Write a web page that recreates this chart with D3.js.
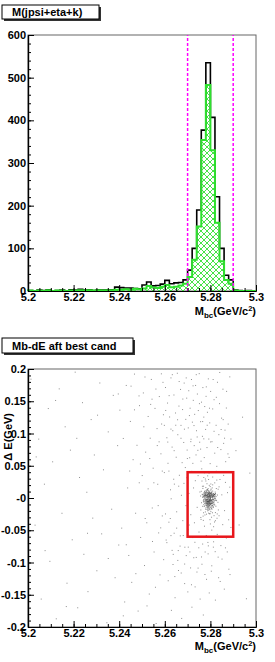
<!DOCTYPE html>
<html>
<head>
<meta charset="utf-8">
<script src="https://cdn.jsdelivr.net/npm/d3@7"></script>
<style>
  body { margin: 0; background: #fff; }
  text { font-family: "Liberation Sans", Arial, sans-serif; font-weight: bold; font-size: 11px; fill: #000; }
</style>
</head>
<body>
<div id="chart"></div>
<script>
// ---- data ----
// 50 bins of 2 MeV between 5.20 and 5.30
const binLow = d3.range(50).map(i => 5.2 + i * 0.002);
// all candidates (black)
const allCounts = [
  1, 0, 2, 1, 3, 0, 1, 2, 0, 3,
  2, 4, 2, 3, 1, 3, 2, 3, 3, 9,
  8, 7, 7, 6, 5, 14, 21, 12, 13, 16,
  25, 17, 19, 20, 26, 49, 100, 190, 377, 535,
  407, 221, 100, 37, 26, 2, 1, 0, 1, 0
];
// best candidate (green, hatched)
const bestCounts = [
  1, 0, 1, 0, 2, 0, 1, 1, 0, 1,
  1, 2, 1, 2, 1, 2, 1, 2, 2, 3,
  3, 4, 3, 5, 4, 6, 12, 8, 7, 10,
  14, 9, 10, 13, 17, 33, 73, 151, 354, 483,
  330, 160, 70, 26, 17, 1, 0, 0, 0, 0
];
const histTicks = [0, 100, 200, 300, 400, 500, 600];
const mbcTicks = [5.2, 5.22, 5.24, 5.26, 5.28, 5.3];
const mbcTickLabels = ["5.2", "5.22", "5.24", "5.26", "5.28", "5.3"];
const deTicks = [-0.2, -0.15, -0.1, -0.05, 0, 0.05, 0.1, 0.15, 0.2];
const deTickLabels = ["-0.2", "-0.15", "-0.1", "-0.05", "-0", "0.05", "0.1", "0.15", "0.2"];
const mbcCut = [5.27, 5.29];
const deCut = [-0.06, 0.04];

// Mbc-dE scatter, [Mbc, dE]
const bgPoints = [
  [5.2013,0.1842],[5.2031,-0.0421],[5.2047,0.0913],[5.2058,-0.1567],[5.2072,0.0214],[5.2089,0.1387],[5.2096,-0.0982],[5.2108,0.0561],
  [5.2124,-0.1873],[5.2137,0.1692],[5.2149,-0.0237],[5.2163,0.1104],[5.2171,-0.1321],[5.2186,0.0742],[5.2194,-0.0648],[5.2207,0.1951],
  [5.2218,-0.1702],[5.2226,0.0318],[5.2239,0.1478],[5.2245,-0.0873],[5.2258,0.0089],[5.2263,-0.1452],[5.2277,0.1216],[5.2284,-0.0312],
  [5.2291,0.0667],[5.2302,-0.1128],[5.2315,0.1783],[5.2323,-0.0556],[5.2331,0.0437],[5.2346,-0.1934],[5.2352,0.1025],[5.2367,-0.0174],
  [5.2374,0.1591],[5.2382,-0.1236],[5.2393,0.0812],[5.2398,-0.0729],
  [5.2403,0.1362],[5.2411,-0.0467],[5.2418,0.0923],[5.2424,-0.1612],[5.2431,0.1745],[5.2437,0.0156],[5.2442,-0.0891],[5.2449,0.1187],
  [5.2455,-0.1308],[5.2461,0.0594],[5.2467,0.1921],[5.2472,-0.0236],[5.2478,0.0817],[5.2483,-0.1753],[5.2489,0.1432],[5.2494,-0.0612],
  [5.2501,0.0348],[5.2506,0.1629],[5.2511,-0.1047],[5.2516,0.0711],[5.2521,-0.0384],[5.2527,0.1264],[5.2532,-0.1489],[5.2536,0.0927],
  [5.2541,0.1838],[5.2545,-0.0155],[5.2549,0.0462],[5.2553,-0.0837],[5.2557,0.1389],[5.2562,-0.1946],[5.2566,0.1076],[5.2569,0.0213],
  [5.2573,-0.0541],[5.2576,0.1573],[5.2579,-0.1192],[5.2583,0.0685],[5.2586,0.1147],[5.2589,-0.0278],[5.2592,0.1793],[5.2595,-0.0956],
  [5.2598,0.0394],[5.2544,0.1532],[5.2508,0.1104],[5.2467,0.1367],[5.2575,0.0871],[5.2522,-0.1673],[5.2488,0.0236],[5.2559,-0.1384],
  [5.2431,-0.0725],[5.2594,0.1291],
  [5.2603,0.1713],[5.2606,-0.0652],[5.2609,0.0934],[5.2612,0.1472],[5.2615,-0.1283],[5.2618,0.0417],[5.2621,0.1256],[5.2624,-0.0318],
  [5.2627,0.1862],[5.2629,-0.1742],[5.2632,0.0789],[5.2635,0.1043],[5.2637,-0.0874],[5.2640,0.1597],[5.2642,0.0215],[5.2645,-0.1546],
  [5.2647,0.1318],[5.2650,0.0632],[5.2652,-0.0467],[5.2655,0.1934],[5.2657,0.0981],[5.2660,-0.1124],[5.2662,0.1425],[5.2664,0.0352],
  [5.2667,-0.0746],[5.2669,0.1683],[5.2671,0.1126],[5.2674,-0.1867],[5.2676,0.0548],[5.2678,0.1371],[5.2681,-0.0582],[5.2683,0.0861],
  [5.2685,0.1782],[5.2687,-0.1327],[5.2690,0.0472],[5.2692,0.1219],[5.2694,-0.0893],[5.2696,0.1548],[5.2698,0.0743],[5.2701,-0.1456],
  [5.2703,0.1087],[5.2705,0.1663],[5.2707,-0.0419],[5.2709,0.0624],[5.2711,0.1392],[5.2713,-0.1084],[5.2715,0.0911],[5.2717,0.1837],
  [5.2719,-0.1693],[5.2721,0.1176],[5.2723,0.0537],[5.2725,0.1514],[5.2727,-0.0926],[5.2729,0.0812],[5.2731,0.1297],[5.2733,-0.1378],
  [5.2735,0.1745],[5.2737,0.0668],[5.2739,0.1043],[5.2741,-0.1148],[5.2743,0.1612],[5.2745,0.0739],[5.2747,0.1356],[5.2749,-0.0772],
  [5.2751,0.1928],[5.2753,0.0865],[5.2755,-0.1567],[5.2757,0.1183],[5.2759,0.0571],[5.2761,0.1486],[5.2763,-0.1027],[5.2765,0.0956],
  [5.2767,0.1712],[5.2769,-0.1814],[5.2771,0.1254],[5.2773,0.0627],[5.2775,0.1418],[5.2777,-0.0837],[5.2779,0.1063],[5.2781,0.1576],
  [5.2783,-0.1261],[5.2785,0.0782],[5.2787,0.1329],[5.2789,-0.0689],[5.2791,0.1847],[5.2793,0.0914],[5.2795,-0.1472],[5.2797,0.1165],
  [5.2799,0.0533],[5.2801,0.1652],[5.2804,-0.1135],[5.2807,0.0873],[5.2810,0.1381],[5.2813,-0.0762],[5.2816,0.1524],[5.2819,0.0695],
  [5.2822,-0.1583],[5.2825,0.1127],[5.2828,0.0491],[5.2831,0.1794],[5.2834,-0.0917],[5.2837,0.0982],[5.2840,0.1463],[5.2843,-0.1294],
  [5.2846,0.0751],[5.2849,0.1238],[5.2852,-0.0612],[5.2855,0.1687],[5.2858,0.0847],[5.2861,-0.1413],[5.2864,0.1052],[5.2867,0.0563],
  [5.2870,0.1395],[5.2874,-0.0836],[5.2878,0.1146],[5.2882,0.0629],[5.2886,-0.1187],[5.2890,0.0915],
  [5.2912,0.0734],[5.2926,-0.0418],[5.2941,0.1253],[5.2958,-0.1562],[5.2973,0.0386],
  [5.2652,-0.0214],[5.2661,0.0183],[5.2668,-0.0587],[5.2673,0.0042],[5.2679,-0.0351],[5.2684,0.0227],[5.2688,-0.0763],[5.2693,-0.0118],
  [5.2697,0.0314],[5.2702,-0.0492],[5.2706,0.0071],[5.2710,-0.0836],[5.2714,-0.0259],[5.2718,0.0412],[5.2722,-0.0613],[5.2726,0.0156],
  [5.2730,-0.0384],[5.2734,0.0268],[5.2738,-0.0921],[5.2742,-0.0145],[5.2746,0.0347],[5.2750,-0.0528],[5.2754,0.0093],[5.2758,-0.0302],
  [5.2762,0.0452],[5.2766,-0.0714],[5.2770,0.0183],[5.2774,-0.0437],[5.2778,0.0294],[5.2782,-0.0581],[5.2786,0.0118],[5.2790,-0.0866],
  [5.2794,0.0386],[5.2798,-0.0243],[5.2802,0.0217],[5.2806,-0.0498],[5.2810,0.0325],[5.2814,-0.0679],[5.2818,0.0054],[5.2822,-0.0352],
  [5.2826,0.0413],[5.2830,-0.0564],[5.2834,0.0136],[5.2838,-0.0275],[5.2842,0.0287],[5.2846,-0.0738],[5.2850,0.0049],[5.2854,-0.0413],
  [5.2858,0.0351],[5.2862,-0.0196],[5.2866,0.0242],[5.2870,-0.0621],[5.2875,0.0083],[5.2880,-0.0338],[5.2885,0.0168],[5.2890,-0.0457],
  [5.2632,-0.0812],[5.2641,-0.0546],[5.2657,-0.0968],[5.2618,-0.0375],[5.2625,0.0127],[5.2636,-0.1031],[5.2609,-0.0692],
  [5.2452,0.1734],[5.2487,0.1583],[5.2513,0.1876],[5.2538,0.1451],[5.2561,0.1689],[5.2585,0.1925],[5.2604,0.1357],[5.2619,0.1587],
  [5.2633,0.1912],[5.2648,0.1128],[5.2663,0.1806],[5.2679,0.1534],[5.2694,0.1862],[5.2708,0.1278],[5.2724,0.1739],[5.2738,0.1912],
  [5.2752,0.1463],[5.2766,0.1185],[5.2782,0.1723],[5.2796,0.1392],[5.2812,0.1837],[5.2826,0.1561],[5.2841,0.1946],[5.2856,0.1215],
  [5.2871,0.1653],[5.2885,0.1878],[5.2598,0.1126],[5.2613,0.0867],[5.2627,0.1068],[5.2641,0.0734],[5.2656,0.1213],[5.2671,0.0926],
  [5.2686,0.1067],[5.2699,0.0612],[5.2714,0.0874],[5.2728,0.1123],[5.2742,0.0946],[5.2757,0.0758],[5.2771,0.0917],[5.2786,0.1128],
  [5.2801,0.0869],[5.2816,0.1034],[5.2832,0.0783],[5.2847,0.1062],[5.2862,0.0927],[5.2877,0.0684],[5.2534,0.0612],[5.2552,0.0236],
  [5.2571,-0.0118],[5.2589,0.0417],[5.2603,-0.0247],[5.2614,0.0538],[5.2628,-0.0012],[5.2639,0.0291],[5.2582,-0.0463],[5.2567,0.0813],
  [5.2546,-0.0674],[5.2527,0.0142],[5.2514,-0.0318],[5.2493,0.0527],[5.2627,-0.0583],[5.2644,-0.1218],[5.2659,-0.0815],[5.2672,-0.1163],
  [5.2687,-0.1024],[5.2703,-0.0762],[5.2717,-0.1345],[5.2732,-0.0687],[5.2746,-0.1087],[5.2761,-0.0914],[5.2776,-0.1186],[5.2791,-0.0742],
  [5.2806,-0.1051],[5.2821,-0.0832],[5.2836,-0.1236],[5.2851,-0.0947],[5.2866,-0.0773],[5.2881,-0.1104],[5.2473,-0.1173],[5.2396,0.1613],
  [5.2352,-0.0938],[5.2305,0.1284],[5.2261,-0.0547],[5.2214,0.0925],[5.2168,-0.1683],[5.2121,0.1512],[5.2075,-0.0816],[5.2036,0.0637],
  [5.2418,-0.1827],[5.2446,0.0418]
];
const signalPoints = [
  [5.2794,-0.0041],[5.2788,0.0023],[5.2801,-0.0097],[5.2779,-0.0012],[5.2806,0.0054],[5.2791,-0.0136],[5.2783,0.0078],[5.2797,0.0012],
  [5.2812,-0.0063],[5.2775,-0.0085],[5.2799,-0.0029],[5.2786,-0.0178],[5.2793,0.0101],[5.2804,-0.0152],[5.2781,0.0036],[5.2796,-0.0068],
  [5.2809,0.0018],[5.2772,-0.0047],[5.2790,0.0146],[5.2802,-0.0211],[5.2785,-0.0103],[5.2798,0.0065],[5.2777,0.0112],[5.2815,-0.0032],
  [5.2792,-0.0187],[5.2789,-0.0058],[5.2805,0.0093],[5.2780,-0.0154],[5.2800,0.0027],[5.2795,-0.0112],[5.2787,0.0049],[5.2811,-0.0121],
  [5.2774,0.0003],[5.2797,-0.0245],[5.2784,-0.0072],[5.2803,0.0138],[5.2791,0.0031],[5.2808,-0.0084],[5.2778,-0.0216],[5.2799,0.0177],
  [5.2782,-0.0034],[5.2806,-0.0045],[5.2793,-0.0075],[5.2776,0.0068],[5.2813,0.0041],[5.2788,-0.0128],[5.2801,0.0008],[5.2790,-0.0019],
  [5.2796,0.0085],[5.2784,0.0125],[5.2807,-0.0173],[5.2781,-0.0091],[5.2798,-0.0053],[5.2792,0.0059],[5.2773,-0.0132],[5.2810,0.0107],
  [5.2786,0.0014],[5.2803,-0.0118],[5.2795,0.0196],[5.2779,0.0047],[5.2794,-0.0163],[5.2789,0.0091],[5.2800,-0.0087],[5.2783,-0.0251],
  [5.2817,-0.0096],[5.2787,-0.0046],[5.2804,0.0039],[5.2797,-0.0141],[5.2777,-0.0024],[5.2809,-0.0229],[5.2791,0.0072],[5.2785,-0.0061],
  [5.2802,0.0122],[5.2796,-0.0026],[5.2780,0.0162],[5.2812,-0.0148],[5.2788,-0.0198],[5.2799,0.0044],[5.2793,-0.0109],[5.2775,0.0098],
  [5.2806,-0.0071],[5.2784,0.0029],[5.2798,-0.0182],[5.2790,-0.0082],[5.2814,0.0062],[5.2782,-0.0117],[5.2801,-0.0038],[5.2787,0.0132],
  [5.2795,0.0021],[5.2778,-0.0066],[5.2808,0.0157],[5.2792,-0.0235],[5.2786,-0.0013],[5.2803,-0.0094],[5.2797,0.0106],[5.2771,0.0025],
  [5.2789,-0.0149],[5.2811,-0.0011],[5.2794,0.0051],[5.2783,-0.0079],
  [5.2765,0.0182],[5.2822,-0.0226],[5.2768,-0.0281],[5.2826,0.0147],[5.2761,-0.0073],[5.2829,-0.0314],[5.2763,0.0263],[5.2819,0.0235],
  [5.2758,-0.0186],[5.2831,0.0046],[5.2769,-0.0347],[5.2824,-0.0128],[5.2760,0.0104],[5.2835,-0.0185],[5.2771,0.0318],[5.2818,-0.0372],
  [5.2766,-0.0129],[5.2828,0.0278],[5.2757,0.0031],[5.2833,-0.0067],[5.2780,0.0264],[5.2805,-0.0298],[5.2792,0.0287],[5.2798,-0.0336],
  [5.2785,0.0221],[5.2810,0.0204],[5.2776,-0.0263],[5.2816,-0.0274],[5.2788,0.0343],[5.2800,-0.0402],[5.2764,0.0057],[5.2827,-0.0041],
  [5.2770,-0.0229],[5.2821,0.0092],[5.2767,0.0148],[5.2830,-0.0247],[5.2759,-0.0332],[5.2838,0.0173],[5.2774,0.0391],[5.2814,-0.0445],
  [5.2793,-0.0052],[5.2797,-0.0088],[5.2790,-0.0031],[5.2788,-0.0073],[5.2799,-0.0015],[5.2795,-0.0059],[5.2791,-0.0096],[5.2802,-0.0049],
  [5.2786,-0.0027],[5.2796,-0.0122],[5.2792,0.0004],[5.2800,-0.0067],[5.2789,-0.0106],[5.2794,-0.0021],[5.2803,-0.0081],[5.2787,-0.0055],
  [5.2798,0.0019],[5.2791,-0.0138],[5.2796,-0.0036],[5.2785,-0.0090],
  [5.2770,-0.0061],[5.2773,0.0042],[5.2776,-0.0118],[5.2779,0.0086],[5.2782,-0.0024],[5.2785,0.0063],[5.2788,-0.0157],[5.2791,0.0118],
  [5.2794,-0.0089],[5.2797,0.0035],[5.2800,-0.0142],[5.2803,0.0076],[5.2806,-0.0023],[5.2809,-0.0118],[5.2812,0.0027],[5.2815,-0.0071],
  [5.2818,0.0052],[5.2821,-0.0036],[5.2768,0.0013],[5.2771,-0.0103],[5.2774,0.0091],[5.2777,-0.0045],[5.2780,-0.0176],[5.2783,0.0105],
  [5.2786,-0.0083],[5.2789,0.0047],[5.2792,-0.0062],[5.2795,-0.0172],[5.2798,0.0081],[5.2801,-0.0028],[5.2804,-0.0165],[5.2807,0.0064],
  [5.2810,-0.0049],[5.2813,-0.0137],[5.2816,0.0018],[5.2819,-0.0109],[5.2822,0.0071],[5.2778,0.0029],[5.2781,-0.0052],[5.2784,-0.0139],
  [5.2787,0.0082],[5.2790,-0.0114],[5.2793,0.0027],[5.2796,-0.0046],[5.2799,-0.0097],[5.2802,0.0053],[5.2805,-0.0086],[5.2808,0.0011],
  [5.2811,-0.0081],[5.2814,-0.0024],[5.2776,0.0057],[5.2779,-0.0091],[5.2782,0.0044],[5.2785,-0.0031],[5.2788,-0.0092],[5.2791,-0.0058],
  [5.2794,0.0068],[5.2797,-0.0107],[5.2800,-0.0003],[5.2803,-0.0056],[5.2806,-0.0127],[5.2809,0.0039],[5.2812,-0.0099],[5.2785,-0.0118],
  [5.2790,0.0016],[5.2795,-0.0083],[5.2800,0.0069],[5.2805,-0.0039],[5.2780,-0.0037],[5.2810,-0.0063],
  [5.2766,0.0012],[5.2769,-0.0043],[5.2772,0.0061],[5.2775,-0.0015],[5.2778,0.0074],[5.2781,0.0008],[5.2784,-0.0052],[5.2787,0.0037],
  [5.2790,0.0069],[5.2793,-0.0007],[5.2796,0.0044],[5.2799,0.0079],[5.2802,-0.0034],[5.2805,0.0021],[5.2808,0.0058],[5.2811,-0.0019],
  [5.2814,0.0036],[5.2817,-0.0048],[5.2820,0.0014],[5.2823,0.0047],[5.2767,0.0055],[5.2770,-0.0021],[5.2773,0.0028],[5.2776,-0.0061],
  [5.2779,0.0042],[5.2782,0.0091],[5.2785,0.0006],[5.2788,0.0052],[5.2791,-0.0044],[5.2794,0.0026],[5.2797,0.0063],[5.2800,-0.0012],
  [5.2803,0.0038],[5.2806,0.0084],[5.2809,-0.0027],[5.2812,0.0049],[5.2815,0.0016],[5.2818,-0.0009],[5.2821,0.0065],[5.2824,-0.0031],
  [5.2777,0.0018],[5.2783,0.0033],[5.2789,0.0011],[5.2795,0.0045],[5.2801,0.0029],[5.2807,0.0009],[5.2813,0.0071],[5.2780,0.0056],
  [5.2786,-0.0018],[5.2792,0.0083],[5.2798,0.0003],[5.2804,0.0067],[5.2810,0.0024],[5.2816,0.0051],[5.2774,0.0037],[5.2819,0.0029],
  [5.2771,0.0079],[5.2822,-0.0007],[5.2768,0.0033],[5.2825,0.0022]
];

// ---- drawing ----
const svg = d3.select("#chart").append("svg")
  .attr("width", 275)
  .attr("height", 662);

const defs = svg.append("defs");
defs.append("pattern")
  .attr("id", "hatch")
  .attr("patternUnits", "userSpaceOnUse")
  .attr("width", 6)
  .attr("height", 6)
  .append("path")
    .attr("d", "M0,0L6,6M6,0L0,6")
    .attr("stroke", "#33e033")
    .attr("stroke-width", 0.9);

function titleBox(x, y, w, h, label) {
  svg.append("rect")
    .attr("x", x + 2).attr("y", y + 2)
    .attr("width", w).attr("height", h)
    .attr("fill", "#333");
  svg.append("rect")
    .attr("x", x).attr("y", y)
    .attr("width", w).attr("height", h)
    .attr("fill", "#fff")
    .attr("stroke", "#000")
    .attr("stroke-width", 1);
  svg.append("text")
    .attr("x", x + 10)
    .attr("y", y + h - 3.5)
    .text(label);
}

function mbcLabel(xRight, yBase) {
  const t = svg.append("text")
    .attr("x", xRight)
    .attr("y", yBase)
    .attr("text-anchor", "end");
  t.append("tspan").text("M");
  t.append("tspan").style("font-size", "8px").attr("dy", 3).text("bc");
  t.append("tspan").attr("dy", -3).text("(GeV/c");
  t.append("tspan").style("font-size", "7.5px").attr("dy", -4).text("2");
  t.append("tspan").attr("dy", 4).text(")");
}

function frame(x, y) {
  const [x0, x1] = x.range();
  const [yb, yt] = y.range();
  svg.append("rect")
    .attr("x", x0).attr("y", yt)
    .attr("width", x1 - x0).attr("height", yb - yt)
    .attr("fill", "none")
    .attr("stroke", "#666")
    .attr("stroke-width", 1);
}

function axes(x, y, yValues, yLabels, yMinor) {
  const yb = y.range()[0];
  const x0 = x.range()[0];

  svg.append("g")
    .attr("transform", `translate(0, ${yb})`)
    .call(d3.axisBottom(x).tickValues(d3.range(5.2, 5.3001, 0.005)).tickSize(-3).tickSizeOuter(0).tickFormat(""));
  svg.append("g")
    .attr("transform", `translate(0, ${yb})`)
    .call(d3.axisBottom(x)
      .tickValues(mbcTicks)
      .tickSize(-6)
      .tickSizeOuter(0)
      .tickPadding(2)
      .tickFormat((d, i) => mbcTickLabels[i]));

  svg.append("g")
    .attr("transform", `translate(${x0}, 0)`)
    .call(d3.axisLeft(y).tickValues(yMinor).tickSize(-3).tickSizeOuter(0).tickFormat(""));
  svg.append("g")
    .attr("transform", `translate(${x0}, 0)`)
    .call(d3.axisLeft(y)
      .tickValues(yValues)
      .tickSize(-6)
      .tickSizeOuter(0)
      .tickPadding(2)
      .tickFormat((d, i) => yLabels[i]));

  svg.selectAll(".domain").attr("stroke", "#000").attr("stroke-width", 1.2);
}

// top panel: M(jpsi+eta+k)
titleBox(2, 5, 97, 14, "M(jpsi+eta+k)");

const xTop = d3.scaleLinear().domain([5.2, 5.3]).range([28, 256]);
const yTop = d3.scaleLinear().domain([0, 600]).range([291, 35]);

frame(xTop, yTop);

const allSteps = [[5.2, 0]].concat(binLow.map((b, i) => [b, allCounts[i]]), [[5.3, allCounts[49]], [5.3, 0]]);
const bestSteps = binLow.map((b, i) => [b, bestCounts[i]]).concat([[5.3, bestCounts[49]]]);

svg.append("path")
  .datum(allSteps)
  .attr("fill", "none")
  .attr("stroke", "#000")
  .attr("stroke-width", 1.6)
  .attr("d", d3.line().x(d => xTop(d[0])).y(d => yTop(d[1])).curve(d3.curveStepAfter));

svg.append("path")
  .datum(bestSteps)
  .attr("fill", "url(#hatch)")
  .attr("d", d3.area().x(d => xTop(d[0])).y0(yTop(0)).y1(d => yTop(d[1])).curve(d3.curveStepAfter));

svg.append("path")
  .datum([[5.2, 0]].concat(bestSteps, [[5.3, 0]]))
  .attr("fill", "none")
  .attr("stroke", "#2ee02e")
  .attr("stroke-width", 2)
  .attr("d", d3.line().x(d => xTop(d[0])).y(d => yTop(d[1])).curve(d3.curveStepAfter));

svg.selectAll(".cut")
  .data(mbcCut)
  .enter()
  .append("line")
    .attr("x1", d => xTop(d)).attr("x2", d => xTop(d))
    .attr("y1", yTop(0)).attr("y2", yTop(600))
    .attr("stroke", "#ff00ff")
    .attr("stroke-width", 1.5)
    .attr("stroke-dasharray", "3,2");

axes(xTop, yTop, histTicks, histTicks.map(String), d3.range(0, 601, 20));
mbcLabel(256, 315);

// bottom panel: Mb-dE aft best cand
titleBox(2, 338, 131, 15, "Mb-dE aft best cand");

const xBot = d3.scaleLinear().domain([5.2, 5.3]).range([28, 256]);
const yBot = d3.scaleLinear().domain([-0.2, 0.2]).range([627, 369]);

frame(xBot, yBot);

svg.append("g")
  .selectAll("rect")
  .data(bgPoints.concat(signalPoints))
  .enter()
  .append("rect")
    .attr("x", d => xBot(d[0]) - 0.5)
    .attr("y", d => yBot(d[1]) - 0.5)
    .attr("width", 1)
    .attr("height", 1)
    .attr("fill", "#222")
    .attr("opacity", 0.5);

svg.append("rect")
  .attr("x", xBot(mbcCut[0]))
  .attr("y", yBot(deCut[1]))
  .attr("width", xBot(mbcCut[1]) - xBot(mbcCut[0]))
  .attr("height", yBot(deCut[0]) - yBot(deCut[1]))
  .attr("fill", "none")
  .attr("stroke", "#e8161b")
  .attr("stroke-width", 2.5);

axes(xBot, yBot, deTicks, deTickLabels, d3.range(-0.2, 0.2001, 0.01));
mbcLabel(256, 650);

svg.append("text")
  .attr("transform", "translate(12, 413) rotate(-90)")
  .attr("text-anchor", "end")
  .text("Δ E(GeV)");
</script>
</body>
</html>
